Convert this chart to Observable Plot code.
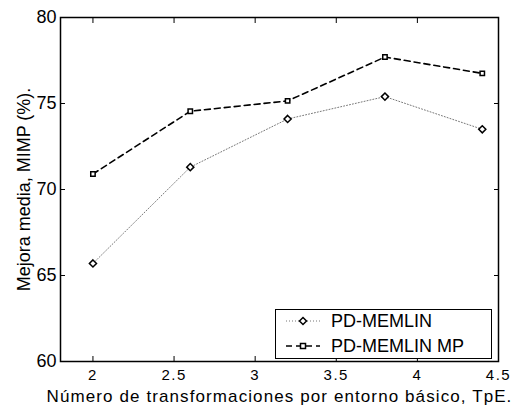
<!DOCTYPE html>
<html>
<head>
<meta charset="utf-8">
<script src="https://cdn.jsdelivr.net/npm/d3@7"></script>
<script src="https://cdn.jsdelivr.net/npm/@observablehq/plot@0.6"></script>
<style>
  body { margin: 0; background: #fff; font-family: "Liberation Sans", Arial, sans-serif; }
  #wrap { position: relative; width: 514px; height: 405px; }
  #wrap svg text { font-size: 18px; font-family: "Liberation Sans", Arial, sans-serif; fill: #000; }
  #legend { position: absolute; left: 275px; top: 309px; width: 215px; height: 48px;
    border: 1px solid #000; background: #fff; font-size: 18px; color: #000; }
  .row { position: absolute; left: 0; height: 20px; display: flex; align-items: center; white-space: nowrap; }
  .row svg { margin-left: 10px; }
  .row span { margin-left: 11px; }
</style>
</head>
<body>
<div id="wrap"></div>
<script>
const tpe = [2, 2.6, 3.2, 3.8, 4.4];
const pdMemlin = [65.7, 71.3, 74.1, 75.4, 73.5];
const pdMemlinMP = [70.9, 74.55, 75.15, 77.7, 76.75];
const seriesNames = ["PD-MEMLIN", "PD-MEMLIN MP"];
const xTicks = [2, 2.5, 3, 3.5, 4, 4.5];
const yTicks = [60, 65, 70, 75, 80];

const d1 = tpe.map((x, i) => ({x, y: pdMemlin[i]}));
const d2 = tpe.map((x, i) => ({x, y: pdMemlinMP[i]}));

const chart = Plot.plot({
  width: 514,
  height: 405,
  marginLeft: 60,
  marginRight: 16,
  marginTop: 17,
  marginBottom: 44,
  style: {fontFamily: "Liberation Sans, Arial, sans-serif", fontSize: "18px", background: "#fff", color: "#000"},
  x: {domain: [1.8, 4.5]},
  y: {domain: [60, 80]},
  marks: [
    Plot.frame({stroke: "#000", strokeWidth: 1.5}),
    Plot.axisX({ticks: xTicks, tickSize: -5, tickPadding: 13, tickFormat: d => String(d),
      label: "Número de transformaciones por entorno básico, TpE.", labelAnchor: "center", labelOffset: 40, labelArrow: "none"}),
    Plot.axisX({anchor: "top", ticks: xTicks, tickSize: -5, tickFormat: () => "", label: null}),
    Plot.axisY({ticks: yTicks, tickSize: -5, tickPadding: 9,
      label: "Mejora media, MIMP (%).", labelAnchor: "center", labelOffset: 43, labelArrow: "none"}),
    Plot.axisY({anchor: "right", ticks: yTicks, tickSize: -5, tickFormat: () => "", label: null}),
    Plot.line(d1, {x: "x", y: "y", stroke: "#777", strokeWidth: 1, strokeDasharray: "1,2"}),
    Plot.line(d2, {x: "x", y: "y", stroke: "#000", strokeWidth: 1.6, strokeDasharray: "6,4"}),
    Plot.dot(d1, {x: "x", y: "y", symbol: "diamond2", r: 3.2, stroke: "#000", strokeWidth: 1.5, fill: "#fff"}),
    Plot.dot(d2, {x: "x", y: "y", symbol: "square2", r: 2.8, stroke: "#000", strokeWidth: 1.5, fill: "#fff"})
  ]
});
const wrap = document.getElementById("wrap");
wrap.appendChild(chart);
// x-axis texts look horizontally wider and shorter in the reference
const xs = xTicks.map(String), ys = yTicks.map(String);
chart.querySelectorAll("text").forEach(t => {
  const txt = t.textContent;
  if (txt.startsWith("Número")) { t.style.fontSize = "17px"; t.style.letterSpacing = "1.1px"; }
  else if (xs.includes(txt) && !ys.includes(txt)) { t.style.fontSize = "15px"; t.style.letterSpacing = "1.5px"; }
});

const legend = document.createElement("div");
legend.id = "legend";
legend.innerHTML = `
  <div class="row" style="top:1px">
    <svg width="34" height="12"><line x1="0" y1="6" x2="34" y2="6" stroke="#777" stroke-width="1" stroke-dasharray="1,2"/>
      <path d="M17,2.5L20.5,6L17,9.5L13.5,6Z" fill="#fff" stroke="#000" stroke-width="1.5"/></svg>
    <span>${seriesNames[0]}</span></div>
  <div class="row" style="top:26px">
    <svg width="34" height="12"><line x1="0" y1="6" x2="34" y2="6" stroke="#000" stroke-width="1.6" stroke-dasharray="6,4"/>
      <rect x="14.5" y="3.5" width="5" height="5" fill="#fff" stroke="#000" stroke-width="1.5"/></svg>
    <span>${seriesNames[1]}</span></div>`;
wrap.appendChild(legend);
</script>
</body>
</html>
